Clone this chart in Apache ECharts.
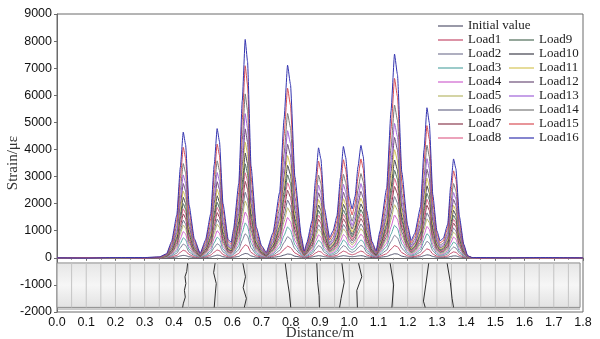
<!DOCTYPE html>
<html>
<head>
<meta charset="utf-8">
<script src="https://cdn.jsdelivr.net/npm/echarts@6/dist/echarts.min.js"></script>
<style>
  html, body { margin: 0; padding: 0; background: #fff; }
  #chart { width: 600px; height: 339px; }
</style>
</head>
<body>
<div id="chart"></div>
<script>
// Sample positions along the specimen (m)
const distance = [0, 0.1, 0.2, 0.3, 0.35, 0.375,
  0.392, 0.41, 0.422, 0.432, 0.44, 0.452, 0.47, 0.49,
  0.508, 0.526, 0.538, 0.548, 0.556, 0.568, 0.586, 0.596,
  0.604, 0.622, 0.634, 0.644, 0.652, 0.664, 0.682, 0.7, 0.716,
  0.739, 0.762, 0.777, 0.789, 0.799, 0.814, 0.836, 0.846,
  0.855, 0.873, 0.885, 0.895, 0.903, 0.915, 0.933,
  0.945, 0.958, 0.97, 0.98, 0.988, 1.0, 1.01,
  1.02, 1.03, 1.04, 1.048, 1.06, 1.078, 1.092,
  1.105, 1.128, 1.143, 1.155, 1.165, 1.18, 1.2, 1.212,
  1.224, 1.244, 1.256, 1.266, 1.274, 1.286, 1.3, 1.311,
  1.322, 1.337, 1.347, 1.357, 1.365, 1.377, 1.392, 1.405, 1.42,
  1.45, 1.55, 1.65, 1.8];

// Strain (με) at each position, one array per load step
const initialValue = [0,0,0,0,0,0, 10,30,70,90,80,40,10, 0, 10,30,70,100,90,40,10, 10, 20,50,120,160,150,70,20,10, 0, 20,50,100,140,130,60,20, 0, 10,30,60,80,70,40, 20, 20,30,60,80,70,50, 40, 50,70,80,70,30,10, 10, 20,50,110,150,140,60,20, 10, 20,40,80,110,100,50,20, 10, 10,20,50,70,70,30,10,0,0, 0,0,0,0];
const load1 = [0,0,0,0,0,10, 40,90,200,280,250,120,40, 10, 40,100,210,290,260,120,40, 30, 60,160,350,480,440,200,70,30, 10, 60,150,310,430,380,180,50, 20, 30,80,180,240,220,110, 50, 60,90,180,250,220,140, 110, 140,200,250,220,100,40, 20, 60,150,320,450,410,190,70, 40, 50,110,240,330,300,140,60, 40, 40,70,160,220,200,90,30,0,0, 0,0,0,0];
const load2 = [0,0,0,0,0,20, 70,170,370,510,460,210,80, 20, 70,180,380,520,470,220,70, 60, 120,300,640,890,800,370,120,50, 20, 100,270,560,780,700,330,90, 30, 60,150,320,450,400,200, 80, 110,170,330,450,410,250, 200, 250,370,460,410,190,70, 30, 110,280,600,830,740,350,130, 70, 100,210,440,610,550,260,110, 70, 80,140,290,400,360,170,60,10,0, 0,0,0,0];
const load3 = [0,0,0,0,10,20, 100,250,530,740,670,310,110, 30, 100,260,550,760,690,320,110, 90, 170,440,930,1290,1160,540,180,70, 30, 150,390,820,1140,1020,480,130, 40, 90,220,470,650,580,290, 120, 160,250,470,660,590,360, 290, 360,540,660,600,280,100, 40, 160,410,870,1200,1080,510,190, 100, 140,300,640,890,800,370,160, 100, 120,200,420,580,530,240,80,10,0, 0,0,0,0];
const load4 = [0,0,10,0,10,30, 130,330,700,970,880,410,150, 40, 140,340,720,1000,900,420,140, 120, 220,580,1220,1690,1520,710,240,90, 40, 190,510,1080,1490,1340,630,170, 50, 120,290,610,850,770,380, 160, 210,330,620,860,780,470, 380, 480,710,870,790,370,130, 50, 210,540,1140,1580,1420,660,250, 130, 190,390,840,1160,1050,490,210, 130, 150,260,550,770,690,320,110,20,0, 0,0,0,0];
const load5 = [0,0,0,10,10,40, 160,410,870,1210,1090,510,180, 40, 170,420,890,1240,1120,520,170, 150, 270,710,1510,2100,1890,880,290,120, 50, 240,630,1330,1850,1660,780,210, 70, 150,360,760,1060,950,480, 200, 260,400,770,1070,960,590, 470, 590,870,1080,970,450,160, 70, 250,670,1410,1960,1760,820,310, 170, 230,490,1040,1440,1300,610,260, 160, 190,320,680,950,860,400,130,20,0, 0,10,0,0];
const load6 = [0,10,0,0,10,50, 180,470,1000,1390,1250,590,210, 50, 200,490,1030,1430,1290,600,200, 170, 320,820,1740,2420,2180,1020,340,140, 60, 280,730,1540,2130,1920,900,240, 80, 170,410,880,1220,1100,550, 230, 300,470,890,1230,1110,680, 540, 680,1010,1250,1120,520,180, 80, 290,770,1620,2260,2030,950,360, 190, 270,560,1200,1660,1500,700,300, 190, 220,370,790,1100,990,460,150,20,0, 0,0,0,0];
const load7 = [0,0,10,0,10,50, 210,550,1170,1620,1460,680,250, 60, 230,570,1200,1670,1500,700,230, 200, 370,960,2030,2820,2540,1190,400,160, 70, 320,850,1790,2490,2240,1050,280, 90, 200,480,1020,1420,1280,640, 260, 350,540,1040,1440,1300,790, 630, 790,1180,1450,1310,610,210, 90, 340,900,1890,2630,2370,1110,420, 220, 320,660,1400,1940,1750,820,350, 220, 250,430,920,1280,1150,540,180,30,0, 0,0,10,0];
const load8 = [0,0,0,10,10,60, 230,620,1300,1810,1630,760,270, 70, 250,630,1340,1860,1670,780,260, 220, 410,1070,2260,3140,2830,1320,440,180, 80, 360,940,2000,2770,2500,1170,310, 100, 220,540,1140,1580,1420,710, 290, 390,600,1150,1600,1440,880, 700, 890,1310,1620,1460,680,230, 100, 380,1000,2110,2930,2640,1230,470, 250, 350,730,1560,2160,1950,910,390, 250, 280,480,1030,1420,1280,600,200,30,0, 0,0,0,10];
const load9 = [0,10,0,0,10,60, 260,680,1440,2000,1800,840,300, 70, 280,700,1470,2050,1840,860,290, 250, 450,1180,2490,3470,3120,1460,490,190, 90, 400,1040,2200,3060,2750,1290,340, 110, 240,590,1260,1750,1570,790, 320, 430,670,1270,1770,1590,970, 770, 980,1440,1780,1610,750,260, 110, 420,1100,2330,3230,2910,1360,520, 280, 390,810,1720,2380,2150,1000,430, 270, 310,530,1130,1570,1410,660,220,30,0, 0,0,10,0];
const load10 = [0,0,10,0,10,70, 290,760,1600,2230,2010,940,340, 80, 310,780,1650,2290,2060,960,320, 270, 500,1320,2780,3870,3480,1630,540,220, 100, 440,1160,2460,3410,3070,1440,380, 120, 270,660,1400,1950,1750,880, 360, 480,740,1420,1970,1780,1080, 860, 1090,1610,1990,1800,840,290, 120, 470,1230,2600,3610,3250,1520,580, 310, 430,900,1920,2660,2400,1120,480, 300, 350,600,1260,1750,1580,730,240,40,0, 0,10,0,0];
const load11 = [0,0,0,10,10,80, 320,840,1770,2460,2220,1030,370, 90, 340,860,1820,2530,2270,1060,360, 300, 560,1450,3070,4270,3840,1800,600,240, 110, 490,1280,2710,3770,3390,1580,420, 130, 300,730,1550,2150,1930,970, 400, 530,820,1570,2180,1960,1190, 950, 1200,1780,2200,1980,920,320, 140, 520,1360,2870,3990,3590,1670,640, 340, 480,1000,2110,2940,2640,1230,530, 330, 380,660,1390,1930,1740,810,270,40,0, 10,0,0,0];
const load12 = [0,10,0,10,20,90, 350,930,1970,2740,2470,1150,410, 100, 380,960,2020,2810,2530,1180,400, 340, 620,1620,3420,4760,4280,2000,670,270, 120, 540,1430,3020,4190,3780,1760,470, 150, 330,810,1720,2400,2150,1080, 440, 590,910,1750,2420,2180,1330, 1060, 1340,1980,2450,2210,1030,350, 150, 580,1510,3190,4440,3990,1860,710, 380, 530,1110,2350,3270,2940,1370,590, 370, 420,730,1550,2150,1940,900,300,50,10, 0,0,10,0];
const load13 = [0,0,10,0,20,100, 400,1040,2200,3060,2760,1290,460, 110, 430,1070,2260,3150,2830,1320,440, 380, 690,1810,3830,5320,4790,2240,750,300, 130, 610,1600,3380,4690,4220,1970,530, 170, 370,910,1930,2680,2410,1210, 500, 660,1020,1950,2710,2440,1490, 1190, 1500,2220,2740,2470,1150,400, 170, 650,1690,3570,4960,4470,2090,790, 420, 590,1240,2630,3660,3290,1540,660, 420, 480,820,1740,2410,2170,1010,330,50,0, 0,10,0,0];
const load14 = [0,-10,0,10,20,110, 450,1190,2510,3480,3140,1460,530, 130, 490,1220,2570,3580,3220,1500,500, 430, 790,2060,4350,6050,5440,2540,850,340, 150, 690,1820,3840,5330,4800,2240,600, 190, 420,1040,2190,3050,2740,1370, 560, 750,1160,2220,3080,2780,1690, 1350, 1700,2520,3110,2810,1310,450, 200, 740,1920,4060,5640,5080,2370,900, 480, 680,1410,2990,4160,3740,1750,750, 470, 540,930,1970,2740,2470,1150,380,60,10, 10,0,0,10];
const load15 = [0,0,10,0,20,130, 530,1390,2940,4080,3680,1720,620, 150, 570,1430,3020,4200,3780,1760,590, 500, 920,2410,5100,7090,6380,2980,990,400, 180, 810,2130,4510,6260,5630,2630,700, 220, 490,1210,2570,3570,3210,1610, 660, 880,1360,2600,3620,3260,1980, 1580, 2000,2960,3650,3290,1530,530, 230, 860,2250,4760,6620,5960,2780,1060, 560, 790,1650,3510,4880,4390,2050,880, 550, 630,1090,2310,3210,2900,1350,440,70,10, 0,10,0,0];
const load16 = [0,-10,10,10,30,150, 600,1580,3340,4640,4180,1950,700, 170, 650,1620,3430,4770,4290,2000,670, 570, 1050,2740,5800,8060,7250,3390,1130,450, 200, 920,2420,5120,7110,6400,2990,800, 250, 560,1380,2920,4060,3650,1830, 750, 1000,1550,2960,4110,3700,2250, 1800, 2270,3360,4150,3740,1740,600, 260, 980,2560,5410,7520,6770,3160,1200, 640, 900,1880,3990,5540,4990,2330,1000, 630, 720,1240,2630,3650,3290,1530,500,80,10, 10,0,10,0];

const seriesNames = ['Initial value', 'Load1', 'Load2', 'Load3', 'Load4', 'Load5', 'Load6', 'Load7', 'Load8',
  'Load9', 'Load10', 'Load11', 'Load12', 'Load13', 'Load14', 'Load15', 'Load16'];
const strainRows = [initialValue, load1, load2, load3, load4, load5, load6, load7, load8,
  load9, load10, load11, load12, load13, load14, load15, load16];
const lineColors = ['#55556e', '#c44a6a', '#7a7a96', '#5aa8a6', '#cf62cf', '#b8b868', '#6c6c8a', '#8a3a4e', '#e0668e',
  '#4e6c58', '#3e3e4a', '#d6c456', '#6c4e78', '#a062d8', '#787878', '#d84e54', '#3434b0'];

// Specimen strip drawn under the zero line
const panelX = [0, 1.79];
const panelY = [-190, -1830, -1890];
const gridLineX = [0.05, 0.1, 0.15, 0.2, 0.25, 0.3, 0.35, 0.4, 0.45, 0.5, 0.55, 0.6, 0.65, 0.7, 0.75, 0.8, 0.85, 0.9,
  0.95, 1.0, 1.05, 1.1, 1.15, 1.2, 1.25, 1.3, 1.35, 1.4, 1.45, 1.5, 1.55, 1.6, 1.65, 1.7, 1.75];
const cracks = [
  [[0.447, -200], [0.444, -500], [0.438, -700], [0.441, -950], [0.436, -1200], [0.439, -1450], [0.432, -1700], [0.430, -1830]],
  [[0.541, -200], [0.536, -550], [0.545, -950], [0.542, -1300], [0.538, -1830]],
  [[0.636, -200], [0.645, -700], [0.637, -1100], [0.648, -1500], [0.641, -1830]],
  [[0.781, -200], [0.788, -800], [0.795, -1300], [0.800, -1830]],
  [[0.889, -200], [0.892, -900], [0.897, -1400], [0.898, -1830]],
  [[0.975, -200], [0.983, -900], [0.972, -1500], [0.967, -1830]],
  [[1.032, -200], [1.043, -700], [1.026, -1200], [1.028, -1830]],
  [[1.140, -200], [1.152, -1000], [1.146, -1830]],
  [[1.272, -200], [1.262, -1000], [1.254, -1600], [1.260, -1830]],
  [[1.335, -200], [1.346, -900], [1.352, -1500], [1.357, -1830]]
];

const serifFont = '"Liberation Serif", "DejaVu Serif", serif';
const sansFont = '"Liberation Sans", Arial, sans-serif';

const chart = echarts.init(document.getElementById('chart'), null, { renderer: 'canvas' });

const series = [];

series.push({
  type: 'custom',
  name: 'panel',
  silent: true,
  z: 1,
  data: [[panelX[0], panelY[0]]],
  encode: { x: 0, y: 1 },
  renderItem: function (params, api) {
    const a = api.coord([panelX[0], panelY[0]]);
    const b = api.coord([panelX[1], panelY[1]]);
    const c1 = api.coord([panelX[0], panelY[2]]);
    const c2 = api.coord([panelX[1], panelY[2]]);
    return {
      type: 'group',
      children: [
        {
          type: 'rect',
          shape: { x: a[0], y: a[1], width: b[0] - a[0], height: b[1] - a[1] },
          style: {
            fill: new echarts.graphic.LinearGradient(0, 0, 0, 1, [
              { offset: 0, color: '#e6e6e6' },
              { offset: 0.5, color: '#f6f6f6' },
              { offset: 1, color: '#e2e2e2' }
            ]),
            stroke: '#8c8c8c', lineWidth: 1
          }
        },
        {
          type: 'line',
          shape: { x1: c1[0], y1: c1[1], x2: c2[0], y2: c2[1] },
          style: { stroke: '#9a9a9a', lineWidth: 1 }
        }
      ]
    };
  }
});

series.push({
  type: 'custom',
  name: 'grid lines',
  silent: true,
  z: 2,
  data: gridLineX.map(function (x) { return [x, panelY[0]]; }),
  encode: { x: 0, y: 1 },
  renderItem: function (params, api) {
    const x = api.value(0);
    const p1 = api.coord([x, panelY[0]]);
    const p2 = api.coord([x, panelY[1]]);
    return {
      type: 'line',
      shape: { x1: p1[0], y1: p1[1], x2: p2[0], y2: p2[1] },
      style: { stroke: '#c4c4c4', lineWidth: 1 }
    };
  }
});

cracks.forEach(function (pts, i) {
  series.push({
    type: 'line',
    name: 'crack' + (i + 1),
    data: pts,
    symbol: 'none',
    silent: true,
    z: 3,
    lineStyle: { color: '#2e2e2e', width: 1 }
  });
});

strainRows.forEach(function (row, i) {
  series.push({
    type: 'line',
    name: seriesNames[i],
    data: distance.map(function (x, j) { return [x, row[j]]; }),
    symbol: 'none',
    smooth: 0.15,
    smoothMonotone: 'x',
    z: 4,
    color: lineColors[i],
    lineStyle: { color: lineColors[i], width: 1 }
  });
});

// Legend swatch: a thin horizontal bar in the series colour
const legendCommon = {
  orient: 'vertical',
  itemWidth: 25,
  itemHeight: 14,
  itemGap: 0,
  icon: 'path://M0,0H25V1.2H0Z',
  selectedMode: false,
  textStyle: { fontFamily: serifFont, fontSize: 13, color: '#222', lineHeight: 14 }
};

chart.setOption({
  animation: false,
  backgroundColor: '#fff',
  grid: {
    left: 57, right: 17, top: 14, bottom: 27,
    outerBoundsMode: 'none', containLabel: false,
    show: true, borderColor: '#6a6a6a', borderWidth: 1
  },
  legend: [
    Object.assign({}, legendCommon, { left: 433, top: 14, data: seriesNames.slice(0, 9) }),
    Object.assign({}, legendCommon, { left: 504, top: 28, data: seriesNames.slice(9) })
  ],
  xAxis: {
    type: 'value',
    min: 0,
    max: 1.8,
    interval: 0.1,
    name: 'Distance/m',
    nameLocation: 'middle',
    nameGap: 14,
    nameMoveOverlap: false,
    nameTextStyle: { fontFamily: serifFont, fontSize: 15, color: '#333' },
    axisLine: { lineStyle: { color: '#6a6a6a', width: 1 } },
    axisTick: { show: true, length: 3, lineStyle: { color: '#6a6a6a' } },
    minorTick: { show: true, splitNumber: 2, length: 2, lineStyle: { color: '#8a8a8a' } },
    axisLabel: {
      margin: 4,
      fontFamily: sansFont, fontSize: 12.5, color: '#111',
      formatter: function (v) { return v.toFixed(1); }
    },
    splitLine: { show: false }
  },
  yAxis: {
    type: 'value',
    min: -2000,
    max: 9000,
    interval: 1000,
    name: 'Strain/με',
    nameLocation: 'middle',
    nameGap: 36,
    nameMoveOverlap: false,
    nameTextStyle: { fontFamily: serifFont, fontSize: 15, color: '#333' },
    axisLine: { show: true, lineStyle: { color: '#6a6a6a', width: 1 } },
    axisTick: { show: true, length: 3, lineStyle: { color: '#6a6a6a' } },
    axisLabel: {
      margin: 5, fontFamily: sansFont, fontSize: 12.5, color: '#111',
      formatter: function (v) { return String(v); }
    },
    splitLine: { show: false }
  },
  series: series
});
</script>
</body>
</html>
